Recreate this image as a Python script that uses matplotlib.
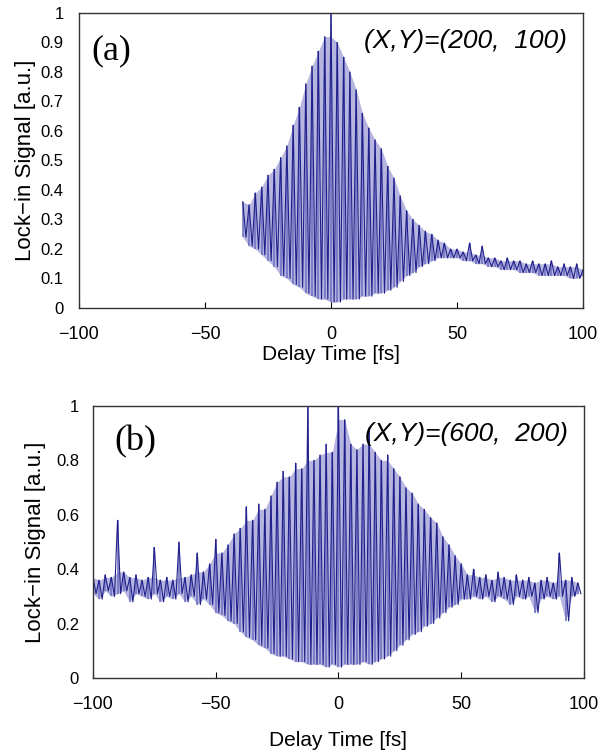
import numpy as np
import matplotlib
matplotlib.use("Agg")
import matplotlib.pyplot as plt

plt.rcParams['font.family'] = ['Liberation Sans', 'DejaVu Sans']

# ==============================================================================
# DATA: fringe peak / trough values, one pair per fringe
# ==============================================================================
FRINGE = 2.5          # fs between fringe peaks (as drawn)

# (a) (X,Y)=(200, 100), fringes start at -35 fs
a_start = -35.0
a_hi = [0.36, 0.35, 0.39, 0.41, 0.45, 0.47, 0.51, 0.55, 0.62, 0.68,
        0.76, 0.82, 0.87, 0.92, 1.00, 0.90, 0.85, 0.80, 0.74, 0.66,
        0.61, 0.57, 0.54, 0.48, 0.44, 0.38, 0.33, 0.30, 0.28, 0.26,
        0.25, 0.23, 0.22, 0.20, 0.20, 0.19, 0.22, 0.18, 0.21, 0.17,
        0.17, 0.16, 0.17, 0.16, 0.16, 0.15, 0.16, 0.15, 0.15, 0.16,
        0.14, 0.15, 0.14, 0.15, 0.13]
a_lo = [0.24, 0.21, 0.20, 0.18, 0.16, 0.14, 0.11, 0.10, 0.08, 0.07,
        0.05, 0.04, 0.03, 0.03, 0.02, 0.02, 0.03, 0.03, 0.03, 0.04,
        0.04, 0.05, 0.05, 0.06, 0.07, 0.09, 0.11, 0.12, 0.14, 0.15,
        0.16, 0.17, 0.17, 0.17, 0.17, 0.16, 0.16, 0.15, 0.15, 0.14,
        0.14, 0.13, 0.13, 0.13, 0.12, 0.12, 0.12, 0.11, 0.11, 0.11,
        0.11, 0.11, 0.10, 0.10, 0.11]

# (b) (X,Y)=(600, 200), fringes start at -100 fs
b_start = -100.0
b_hi = [0.37, 0.36, 0.38, 0.37, 0.58, 0.39, 0.37, 0.38, 0.36, 0.37,
        0.48, 0.36, 0.37, 0.36, 0.50, 0.37, 0.38, 0.46, 0.39, 0.42,
        0.51, 0.46, 0.49, 0.53, 0.55, 0.63, 0.58, 0.64, 0.62, 0.67,
        0.72, 0.76, 0.74, 0.79, 0.77, 1.00, 0.80, 0.82, 0.86, 0.83,
        1.00, 0.95, 0.86, 0.84, 0.86, 0.92, 0.83, 0.80, 0.82, 0.77,
        0.74, 0.70, 0.68, 0.64, 0.62, 0.59, 0.57, 0.52, 0.49, 0.45,
        0.42, 0.38, 0.40, 0.37, 0.38, 0.36, 0.39, 0.37, 0.36, 0.38,
        0.36, 0.37, 0.35, 0.36, 0.37, 0.35, 0.46, 0.36, 0.37, 0.35]
b_lo = [0.31, 0.29, 0.32, 0.30, 0.31, 0.32, 0.28, 0.31, 0.30, 0.29,
        0.31, 0.28, 0.30, 0.29, 0.31, 0.28, 0.30, 0.27, 0.29, 0.27,
        0.24, 0.23, 0.21, 0.20, 0.17, 0.15, 0.14, 0.12, 0.11, 0.09,
        0.08, 0.08, 0.07, 0.06, 0.06, 0.05, 0.05, 0.05, 0.04, 0.05,
        0.04, 0.05, 0.05, 0.05, 0.06, 0.05, 0.06, 0.07, 0.08, 0.10,
        0.12, 0.14, 0.16, 0.17, 0.19, 0.20, 0.22, 0.24, 0.26, 0.27,
        0.29, 0.29, 0.30, 0.29, 0.30, 0.28, 0.30, 0.29, 0.27, 0.30,
        0.29, 0.30, 0.24, 0.29, 0.30, 0.29, 0.30, 0.21, 0.30, 0.31]

panels = [
    dict(start=a_start, hi=a_hi, lo=a_lo, tag="(a)", pos="(X,Y)=(200,  100)",
         yticks=np.arange(0, 1.01, 0.1),
         rect=[0.1314, 0.591, 0.8386, 0.3918],
         ylab=(-0.107, 0.5), xlab=(0.5, -0.159),
         tagxy=(0.024, 0.871), posxy=(0.968, 0.905), ypad=11),
    dict(start=b_start, hi=b_hi, lo=b_lo, tag="(b)", pos="(X,Y)=(600,  200)",
         yticks=np.arange(0, 1.01, 0.2),
         rect=[0.1547, 0.0996, 0.817, 0.3612],
         ylab=(-0.118, 0.5), xlab=(0.5, -0.228),
         tagxy=(0.043, 0.868), posxy=(0.967, 0.897), ypad=10),
]

LINE  = "#20208a"
LIGHT = "#7272c4"
FILL  = "#9d9dd6"

fig = plt.figure(figsize=(6.01, 7.53), dpi=100)

for p in panels:
    ax = fig.add_axes(p["rect"])
    hi = np.array(p["hi"])
    lo = np.array(p["lo"])
    t = p["start"] + FRINGE * np.arange(len(hi))

    # zig-zag trace: peak at t, trough half a fringe later
    tt = np.empty(2 * len(t))
    vv = np.empty(2 * len(t))
    tt[0::2], tt[1::2] = t, t + FRINGE / 2
    vv[0::2], vv[1::2] = hi, lo

    # shaded body of the fringes, without the isolated spikes
    nb = np.maximum(np.r_[hi[1:], hi[-1]], np.r_[hi[0], hi[:-1]])
    body = np.minimum(hi, nb)
    ax.fill_between(t, lo, body, color=FILL, alpha=0.75, lw=0)
    ax.vlines(t, lo, hi, color=LIGHT, lw=1.2)
    ax.plot(tt, vv, color=LINE, lw=0.8)

    ax.set_xlim(-100, 100)
    ax.set_ylim(0, 1)
    ax.set_xticks([-100, -50, 0, 50, 100])
    ax.set_yticks(p["yticks"])
    ax.set_yticklabels([f"{v:g}" for v in p["yticks"]])
    ax.tick_params(axis='x', direction='in', length=4, pad=13, labelsize=13)
    ax.tick_params(axis='y', direction='in', length=0, pad=p["ypad"], labelsize=12)
    for s in ax.spines.values():
        s.set_color("#333333")
        s.set_linewidth(1.0)

    ax.set_ylabel("Lock\u2212in Signal [a.u.]", fontsize=16)
    ax.set_xlabel("Delay Time [fs]", fontsize=15)
    ax.yaxis.set_label_coords(*p["ylab"])
    ax.xaxis.set_label_coords(*p["xlab"])
    ax.yaxis.label.set_va("center")
    ax.xaxis.label.set_va("center")

    ax.text(*p["tagxy"], p["tag"], transform=ax.transAxes, ha="left", va="center",
            fontsize=26, family="Liberation Serif")
    ax.text(*p["posxy"], p["pos"], transform=ax.transAxes, ha="right", va="center",
            fontsize=19, style="italic")

fig.savefig("out.png", dpi=100)
